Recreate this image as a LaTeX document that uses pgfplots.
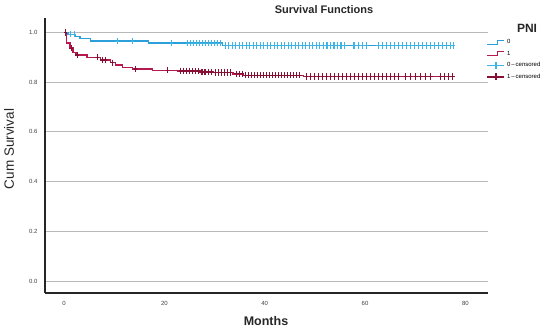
\documentclass[border=0pt]{standalone}
\usepackage{pgfplots}
\pgfplotsset{compat=1.18}
\usepackage{fontspec}
\setmainfont{Liberation Sans}
\definecolor{bline}{HTML}{2A9FDA}
\definecolor{bcens}{HTML}{3CB4E6}
\definecolor{rline}{HTML}{B5194D}
\definecolor{rcens}{HTML}{860F32}
\begin{document}
\begin{tikzpicture}
\useasboundingbox (-45pt,-36pt) rectangle (505pt,293pt);
\begin{axis}[
  at={(0pt,0pt)}, anchor=south west,
  scale only axis, width=443pt, height=275pt,
  xmin=-3.8, xmax=84.5, ymin=-0.048, ymax=1.058,
  axis x line*=bottom, axis y line*=left,
  axis line style={-, line width=1.3pt, black!85},
  major tick length=0pt,
  xtick={0,20,40,60,80},
  ytick={0,0.2,0.4,0.6,0.8,1.0},
  yticklabel style={/pgf/number format/fixed,/pgf/number format/fixed zerofill,/pgf/number format/precision=1, xshift=-4pt},
  xticklabel style={yshift=-5pt},
  /pgf/number format/assume math mode=true,
  tick label style={font=\fontsize{6}{7}\selectfont, text=black!75},
  ymajorgrids, grid style={color=gray!55, line width=1pt},
  legend style={at={(0.997,0.93)}, anchor=north west, draw=none, fill=none,
    font=\fontsize{6}{7}\selectfont, row sep=1.8pt, inner sep=0pt},
  legend cell align=left,
]
\addplot[const plot, bline, line width=1.3pt,
  legend image code/.code={\draw[bline, line width=1.2pt] (0pt,-2pt) -- (10pt,-2pt) -- (10pt,2pt) -- (17pt,2pt);}]
coordinates {(0,1) (0.8,0.993) (2.2,0.984) (3.2,0.975) (5.2,0.965) (16.8,0.957) (31.6,0.948) (77.8,0.948)};
\addlegendentry{0}
\addplot[const plot, rline, line width=1.3pt,
  legend image code/.code={\draw[rline, line width=1.2pt] (0pt,-2pt) -- (10pt,-2pt) -- (10pt,2pt) -- (17pt,2pt);}]
coordinates {(0,1) (0.5,0.957) (1.2,0.937) (1.8,0.918) (2.4,0.909) (4.6,0.900) (7.2,0.889) (9.2,0.878) (10.2,0.869) (11.6,0.858) (13.6,0.853) (17.6,0.848) (22.6,0.845) (27.1,0.841) (29.7,0.838) (33.7,0.833) (35.7,0.828) (47.7,0.823) (77.8,0.823)};
\addlegendentry{1}
\addplot[only marks, mark=+, mark size=3.2pt, mark options={xscale=0.55}, bcens, line width=1.1pt,
  legend image code/.code={\draw[bcens, line width=1.2pt] (0pt,0pt) -- (17pt,0pt); \draw[bcens, line width=1.1pt] (8.5pt,-3.5pt) -- (8.5pt,3.5pt);}]
coordinates {(1.2,0.993) (2.0,0.993) (10.6,0.965) (13.6,0.965) (21.4,0.957)
(24.6,0.957) (25.2,0.957) (25.8,0.957) (26.4,0.957) (27.0,0.957) (27.6,0.957) (28.2,0.957) (28.8,0.957) (29.4,0.957) (30.0,0.957) (30.6,0.957) (31.2,0.957)
(32.1,0.948) (32.8,0.948) (33.5,0.948) (34.2,0.948) (34.9,0.948) (35.6,0.948) (36.3,0.948) (37.0,0.948) (37.7,0.948) (38.4,0.948) (39.1,0.948) (39.8,0.948) (40.5,0.948) (41.2,0.948) (41.9,0.948) (42.6,0.948) (43.3,0.948) (44.0,0.948) (44.7,0.948) (45.4,0.948) (46.1,0.948) (46.8,0.948) (47.5,0.948) (48.2,0.948) (48.9,0.948) (49.6,0.948) (50.3,0.948) (51.0,0.948) (51.7,0.948) (52.4,0.948) (53.1,0.948) (53.8,0.948) (54.5,0.948) (55.2,0.948) (55.9,0.948)
(57.8,0.948) (58.6,0.948) (59.4,0.948) (60.2,0.948)
(62.6,0.948) (63.4,0.948) (64.2,0.948) (65.0,0.948) (65.8,0.948) (66.6,0.948) (67.4,0.948) (68.2,0.948) (69.0,0.948) (69.8,0.948) (70.6,0.948) (71.4,0.948) (72.2,0.948) (73.0,0.948) (73.8,0.948) (74.6,0.948) (75.4,0.948) (76.2,0.948) (77.0,0.948) (77.6,0.948)};
\addlegendentry{0\,--\,censored}
\addplot[only marks, mark=+, mark size=3.2pt, mark options={xscale=0.55}, rcens, line width=1.1pt,
  legend image code/.code={\draw[rcens, line width=1.2pt] (0pt,0pt) -- (17pt,0pt); \draw[rcens, line width=1.1pt] (8.5pt,-3.5pt) -- (8.5pt,3.5pt);}]
coordinates {(0.3,1.0) (1.4,0.937) (2.6,0.909) (6.6,0.900) (7.6,0.889) (8.2,0.889) (9.6,0.878) (14.2,0.853) (20.6,0.848)
(23.2,0.845) (23.8,0.845) (24.4,0.845) (25.0,0.845) (25.6,0.845) (26.2,0.845) (26.8,0.845)
(27.5,0.841) (28.1,0.841) (28.7,0.841) (29.3,0.841)
(30.1,0.838) (30.7,0.838) (31.3,0.838) (31.9,0.838) (32.5,0.838) (33.1,0.838)
(34.3,0.833) (34.9,0.833) (35.5,0.833)
(36.2,0.828) (36.8,0.828) (37.4,0.828) (38.0,0.828) (38.6,0.828) (39.2,0.828) (39.8,0.828) (40.4,0.828) (41.0,0.828) (41.6,0.828) (42.2,0.828) (42.8,0.828) (43.4,0.828) (44.0,0.828) (44.6,0.828) (45.2,0.828) (45.8,0.828) (46.4,0.828) (47.0,0.828)
(48.3,0.823) (49.1,0.823) (49.9,0.823) (50.7,0.823) (51.5,0.823) (52.3,0.823) (53.1,0.823) (53.9,0.823) (54.7,0.823) (55.5,0.823) (56.3,0.823) (57.1,0.823) (57.9,0.823) (58.7,0.823) (59.5,0.823) (60.3,0.823) (61.1,0.823) (61.9,0.823) (62.7,0.823) (63.5,0.823) (64.3,0.823) (65.1,0.823) (65.9,0.823) (66.7,0.823)
(68.1,0.823) (69.1,0.823) (70.1,0.823) (71.1,0.823) (72.1,0.823) (73.1,0.823)
(75.1,0.823) (75.8,0.823) (76.7,0.823) (77.5,0.823)};
\addlegendentry{1\,--\,censored}
\end{axis}
\node[font=\bfseries\fontsize{11}{13}\selectfont, text=black!85] at (279pt,283pt) {Survival Functions};
\node[font=\fontsize{13.5}{15}\selectfont, rotate=90, text=black!85] at (-36pt,144pt) {Cum Survival};
\node[font=\bfseries\fontsize{12.5}{14}\selectfont, text=black!85] at (221pt,-28pt) {Months};
\node[font=\bfseries\fontsize{12}{14}\selectfont, text=black!85] at (482pt,265pt) {PNI};
\end{tikzpicture}
\end{document}
